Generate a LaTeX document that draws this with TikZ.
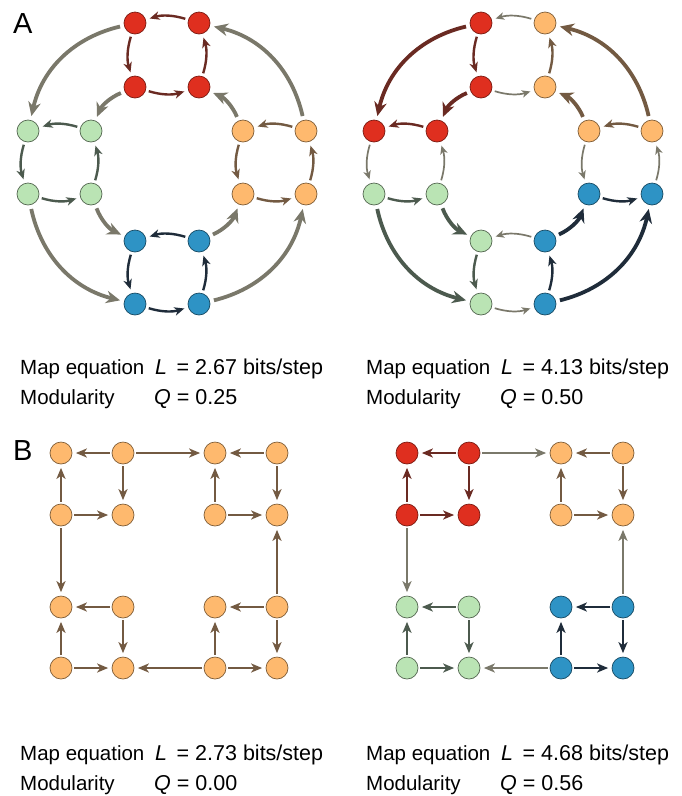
\documentclass[tikz,border=0pt]{standalone}
\usepackage{fontspec}
\setmainfont{Liberation Sans}
\usetikzlibrary{arrows.meta}
\definecolor{cred}{HTML}{DF2F1F}
\definecolor{corange}{HTML}{FEB96E}
\definecolor{cgreen}{HTML}{BAE4B4}
\definecolor{cblue}{HTML}{2E93C5}
\definecolor{ered}{HTML}{6A2A22}
\definecolor{egreen}{HTML}{4C5A4E}
\definecolor{eorange}{HTML}{735A42}
\definecolor{eblue}{HTML}{1F2C3A}
\definecolor{egray}{HTML}{7A786A}
\begin{document}
\begin{tikzpicture}[x=1pt,y=-1pt,
  nd/.style={circle,minimum size=22pt,inner sep=0pt,line width=0.7pt},
  nr/.style={nd,fill=cred,draw=cred!55!black},
  no/.style={nd,fill=corange,draw=corange!50!black},
  ng/.style={nd,fill=cgreen,draw=cgreen!45!black},
  nb/.style={nd,fill=cblue,draw=cblue!50!black},
  medium/.style={line width=2.4pt,-{Stealth[length=10pt,width=8.5pt,inset=3pt]},shorten >=4pt,shorten <=3pt},
  heavy/.style={line width=3.8pt,-{Stealth[length=14pt,width=12.5pt,inset=4.5pt]},shorten >=4pt,shorten <=4pt},
  light/.style={line width=1.7pt,-{Stealth[length=8.5pt,width=7.5pt,inset=2.5pt]},shorten >=4pt,shorten <=3pt,draw=egray},
  straight/.style={line width=2.8pt,-{Stealth[length=11pt,width=9pt,inset=3pt]},shorten >=3.5pt,shorten <=2pt},
  intra/.style={bend right=17},
  outer/.style={bend right=32},
  inner/.style={bend right=22},
  txt/.style={anchor=base west,inner sep=0pt,font=\fontsize{20.5}{24}\selectfont},
  val/.style={anchor=base west,inner sep=0pt,font=\fontsize{21.5}{24}\selectfont},
  lbl/.style={anchor=base west,inner sep=0pt,font=\fontsize{29}{32}\selectfont}
]
\useasboundingbox (0,0) rectangle (682,796);

% ---------- A left ----------
\node[nr] (at1) at (135,23) {};
\node[nr] (at2) at (199,23) {};
\node[nr] (at3) at (135,87) {};
\node[nr] (at4) at (199,87) {};
\node[ng] (al1) at (28,131) {};
\node[ng] (al2) at (91,131) {};
\node[ng] (al3) at (28,194) {};
\node[ng] (al4) at (91,194) {};
\node[no] (ar1) at (243,131) {};
\node[no] (ar2) at (306,131) {};
\node[no] (ar3) at (243,194) {};
\node[no] (ar4) at (306,194) {};
\node[nb] (ab1) at (135,241) {};
\node[nb] (ab2) at (199,241) {};
\node[nb] (ab3) at (135,304) {};
\node[nb] (ab4) at (199,304) {};

\foreach \m/\c in {t/ered,l/egreen,r/eorange,b/eblue}{
  \draw[medium,draw=\c] (a\m2) to[intra] (a\m1);
  \draw[medium,draw=\c] (a\m1) to[intra] (a\m3);
  \draw[medium,draw=\c] (a\m3) to[intra] (a\m4);
  \draw[medium,draw=\c] (a\m4) to[intra] (a\m2);
}
\draw[heavy,draw=egray] (at1) to[outer] (al1);
\draw[heavy,draw=egray] (al3) to[outer] (ab3);
\draw[heavy,draw=egray] (ab4) to[outer] (ar4);
\draw[heavy,draw=egray] (ar2) to[outer] (at2);
\draw[heavy,draw=egray] (at3) to[inner] (al2);
\draw[heavy,draw=egray] (al4) to[inner] (ab1);
\draw[heavy,draw=egray] (ab2) to[inner] (ar3);
\draw[heavy,draw=egray] (ar1) to[inner] (at4);

% ---------- A right ----------
\node[nr] (ct1) at (481,23) {};
\node[no] (ct2) at (545,23) {};
\node[nr] (ct3) at (481,87) {};
\node[no] (ct4) at (545,87) {};
\node[nr] (cl1) at (374,131) {};
\node[nr] (cl2) at (437,131) {};
\node[ng] (cl3) at (374,194) {};
\node[ng] (cl4) at (437,194) {};
\node[no] (cr1) at (589,131) {};
\node[no] (cr2) at (652,131) {};
\node[nb] (cr3) at (589,194) {};
\node[nb] (cr4) at (652,194) {};
\node[ng] (cb1) at (481,241) {};
\node[nb] (cb2) at (545,241) {};
\node[ng] (cb3) at (481,304) {};
\node[nb] (cb4) at (545,304) {};

\draw[light] (ct2) to[intra] (ct1);
\draw[medium,draw=ered] (ct1) to[intra] (ct3);
\draw[light] (ct3) to[intra] (ct4);
\draw[medium,draw=eorange] (ct4) to[intra] (ct2);

\draw[medium,draw=ered] (cl2) to[intra] (cl1);
\draw[light] (cl1) to[intra] (cl3);
\draw[medium,draw=egreen] (cl3) to[intra] (cl4);
\draw[light] (cl4) to[intra] (cl2);

\draw[medium,draw=eorange] (cr2) to[intra] (cr1);
\draw[light] (cr1) to[intra] (cr3);
\draw[medium,draw=eblue] (cr3) to[intra] (cr4);
\draw[light] (cr4) to[intra] (cr2);

\draw[light] (cb2) to[intra] (cb1);
\draw[medium,draw=egreen] (cb1) to[intra] (cb3);
\draw[light] (cb3) to[intra] (cb4);
\draw[medium,draw=eblue] (cb4) to[intra] (cb2);

\draw[heavy,draw=ered] (ct1) to[outer] (cl1);
\draw[heavy,draw=egreen] (cl3) to[outer] (cb3);
\draw[heavy,draw=eblue] (cb4) to[outer] (cr4);
\draw[heavy,draw=eorange] (cr2) to[outer] (ct2);
\draw[heavy,draw=ered] (ct3) to[inner] (cl2);
\draw[heavy,draw=egreen] (cl4) to[inner] (cb1);
\draw[heavy,draw=eblue] (cb2) to[inner] (cr3);
\draw[heavy,draw=eorange] (cr1) to[inner] (ct4);

% ---------- B left ----------
\node[no] (dp1) at (61,453) {};
\node[no] (dp2) at (123,453) {};
\node[no] (dp3) at (61,515) {};
\node[no] (dp4) at (123,515) {};
\node[no] (dq1) at (215,453) {};
\node[no] (dq2) at (277,453) {};
\node[no] (dq3) at (215,515) {};
\node[no] (dq4) at (277,515) {};
\node[no] (ds1) at (61,607) {};
\node[no] (ds2) at (123,607) {};
\node[no] (ds3) at (61,668) {};
\node[no] (ds4) at (123,668) {};
\node[no] (du1) at (215,607) {};
\node[no] (du2) at (277,607) {};
\node[no] (du3) at (215,668) {};
\node[no] (du4) at (277,668) {};
\foreach \m in {p,q,s,u}{
  \draw[straight,draw=eorange] (d\m2) -- (d\m1);
  \draw[straight,draw=eorange] (d\m3) -- (d\m1);
  \draw[straight,draw=eorange] (d\m3) -- (d\m4);
  \draw[straight,draw=eorange] (d\m2) -- (d\m4);
}
\draw[straight,draw=eorange] (dp2) -- (dq1);
\draw[straight,draw=eorange] (dp3) -- (ds1);
\draw[straight,draw=eorange] (du2) -- (dq4);
\draw[straight,draw=eorange] (du3) -- (ds4);

% ---------- B right ----------
\node[nr] (ep1) at (407,453) {};
\node[nr] (ep2) at (469,453) {};
\node[nr] (ep3) at (407,515) {};
\node[nr] (ep4) at (469,515) {};
\node[no] (eq1) at (561,453) {};
\node[no] (eq2) at (623,453) {};
\node[no] (eq3) at (561,515) {};
\node[no] (eq4) at (623,515) {};
\node[ng] (es1) at (407,607) {};
\node[ng] (es2) at (469,607) {};
\node[ng] (es3) at (407,668) {};
\node[ng] (es4) at (469,668) {};
\node[nb] (eu1) at (561,607) {};
\node[nb] (eu2) at (623,607) {};
\node[nb] (eu3) at (561,668) {};
\node[nb] (eu4) at (623,668) {};
\foreach \m/\c in {p/ered,q/eorange,s/egreen,u/eblue}{
  \draw[straight,draw=\c] (e\m2) -- (e\m1);
  \draw[straight,draw=\c] (e\m3) -- (e\m1);
  \draw[straight,draw=\c] (e\m3) -- (e\m4);
  \draw[straight,draw=\c] (e\m2) -- (e\m4);
}
\draw[straight,draw=egray] (ep2) -- (eq1);
\draw[straight,draw=egray] (ep3) -- (es1);
\draw[straight,draw=egray] (eu2) -- (eq4);
\draw[straight,draw=egray] (eu3) -- (es4);

% ---------- labels and text ----------
\node[lbl] (labA) at (13,33) {A};
\node[lbl] (labB) at (13,460) {B};

\node[txt] (m1) at (20,374) {Map equation};
\node[val] (v1) at (155,374) {\textit{L}\, = 2.67 bits/step};
\node[txt] (q1) at (20,404) {Modularity};
\node[val] (w1) at (154,404) {\textit{Q} = 0.25};

\node[txt] (m2) at (366,374) {Map equation};
\node[val] (v2) at (501,374) {\textit{L}\, = 4.13 bits/step};
\node[txt] (q2) at (366,404) {Modularity};
\node[val] (w2) at (500,404) {\textit{Q} = 0.50};

\node[txt] (m3) at (20,760) {Map equation};
\node[val] (v3) at (155,760) {\textit{L}\, = 2.73 bits/step};
\node[txt] (q3) at (20,790) {Modularity};
\node[val] (w3) at (154,790) {\textit{Q} = 0.00};

\node[txt] (m4) at (366,760) {Map equation};
\node[val] (v4) at (501,760) {\textit{L}\, = 4.68 bits/step};
\node[txt] (q4) at (366,790) {Modularity};
\node[val] (w4) at (500,790) {\textit{Q} = 0.56};
\end{tikzpicture}
\end{document}
